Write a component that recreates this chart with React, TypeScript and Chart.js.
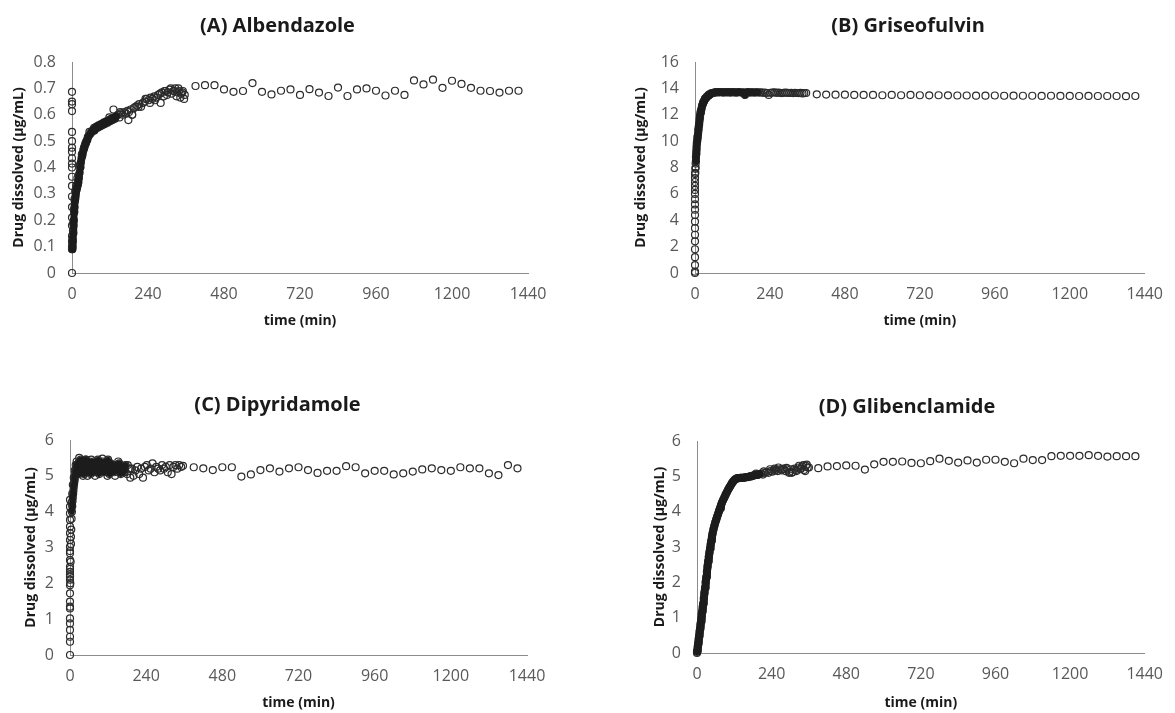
import React, { useEffect, useRef } from "react";
import { Chart, registerables } from "chart.js";

Chart.register(...registerables);

// ---------- DATA ----------
const X_TICK_STEP = 240;
const X_MAX = 1440;
const START_TIME = 0;

const TIME_DENSE = [
  1, 2, 3, 4, 5, 6, 7, 8, 9, 10, 11, 12, 13, 14, 15, 16, 17, 18, 19, 20,
  22, 24, 26, 28, 30, 32, 34, 36, 38, 40, 42, 44, 46, 48, 50,
  53, 56, 59, 62, 65, 68, 71, 74, 77, 80,
  84, 88, 92, 96, 100, 104, 108, 112, 116, 120, 124, 128, 132, 136, 140,
  145, 150, 155, 160, 165, 170, 175, 180, 185, 190, 195, 200,
  206, 212, 218, 224, 230, 236, 242, 248, 254, 260, 266, 272, 278, 284, 290, 296, 302, 308, 314, 320, 326, 332, 338, 344, 350, 356,
];

const TIME_LATE = [
  390, 420, 450, 480, 510, 540, 570, 600, 630, 660, 690, 720, 750, 780, 810, 840, 870, 900,
  930, 960, 990, 1020, 1050, 1080, 1110, 1140, 1170, 1200, 1230, 1260, 1290, 1320, 1350, 1380, 1410,
];

const TIME_LATE_D = [
  360, 390, 420, 450, 480, 510, 540, 570, 600, 630, 660, 690, 720, 750, 780, 810, 840, 870, 900,
  930, 960, 990, 1020, 1050, 1080, 1110, 1140, 1170, 1200, 1230, 1260, 1290, 1320, 1350, 1380, 1410,
];

// (A) Albendazole
const A_START = [0, 0.09, 0.1, 0.12, 0.14, 0.18, 0.21, 0.25, 0.29, 0.33, 0.365, 0.4, 0.415, 0.435, 0.46, 0.475, 0.5, 0.535, 0.614, 0.64, 0.65, 0.687];
const A_DENSE = [
  0.09, 0.1, 0.12, 0.15, 0.18, 0.2, 0.23, 0.25, 0.27, 0.28, 0.29, 0.3, 0.31, 0.315, 0.32, 0.325, 0.33, 0.335, 0.34, 0.345,
  0.36, 0.38, 0.4, 0.42, 0.435, 0.445, 0.455, 0.465, 0.475, 0.48, 0.49, 0.495, 0.5, 0.505, 0.515,
  0.52, 0.525, 0.53, 0.535, 0.54, 0.545, 0.54, 0.55, 0.555, 0.55,
  0.56, 0.555, 0.565, 0.56, 0.57, 0.565, 0.575, 0.57, 0.58, 0.575, 0.585, 0.58, 0.59, 0.585, 0.595,
  0.6, 0.59, 0.605, 0.6, 0.61, 0.605, 0.615, 0.61, 0.62, 0.6, 0.625, 0.63,
  0.635, 0.64, 0.63, 0.645, 0.65, 0.66, 0.655, 0.665, 0.66, 0.67, 0.665, 0.675, 0.68, 0.685, 0.67, 0.69, 0.685, 0.695, 0.68, 0.69, 0.7, 0.685, 0.69, 0.68, 0.69, 0.675,
];
const A_EXTRA_T = [1, 2, 3, 4, 6, 8, 10, 13, 17, 21, 25, 31, 37, 43, 55, 70, 86, 102, 118, 131, 152, 178, 190, 210, 232, 246, 262, 280, 292, 300, 312, 324, 330, 336, 342, 348, 354];
const A_EXTRA = [0.11, 0.13, 0.16, 0.19, 0.24, 0.28, 0.31, 0.33, 0.36, 0.37, 0.41, 0.45, 0.47, 0.49, 0.535, 0.55, 0.56, 0.57, 0.59, 0.62, 0.61, 0.58, 0.6, 0.63, 0.66, 0.645, 0.655, 0.645, 0.69, 0.675, 0.7, 0.69, 0.67, 0.7, 0.665, 0.685, 0.66];
const A_LATE = [
  0.709, 0.712, 0.712, 0.696, 0.687, 0.69, 0.72, 0.687, 0.677, 0.691,
  0.696, 0.675, 0.697, 0.684, 0.671, 0.703, 0.671, 0.696, 0.7, 0.691,
  0.673, 0.691, 0.675, 0.73, 0.715, 0.733, 0.702, 0.729, 0.717, 0.702,
  0.691, 0.69, 0.684, 0.691, 0.691,
];

// (B) Griseofulvin
const B_START = [0, 0.1, 0.6, 1.2, 1.8, 2.4, 2.9, 3.4, 3.9, 4.4, 4.8, 5.2, 5.6, 6.0, 6.3, 6.6, 6.9, 7.2, 7.5];
const B_DENSE = [
  7.6, 8.0, 8.5, 9.0, 9.4, 9.8, 10.0, 10.2, 10.4, 10.6, 10.85, 11.1, 11.3, 11.5, 11.7, 11.9, 12.05, 12.2, 12.3, 12.4,
  12.6, 12.75, 12.9, 13.0, 13.1, 13.2, 13.25, 13.3, 13.35, 13.4, 13.45, 13.5, 13.52, 13.55, 13.6,
  13.62, 13.65, 13.66, 13.68, 13.7, 13.7, 13.72, 13.7, 13.72, 13.7,
  13.72, 13.7, 13.68, 13.72, 13.7, 13.7, 13.72, 13.68, 13.7, 13.72, 13.7, 13.7, 13.68, 13.7, 13.72,
  13.7, 13.68, 13.7, 13.5, 13.7, 13.72, 13.68, 13.7, 13.7, 13.68, 13.7, 13.7,
  13.68, 13.7, 13.66, 13.68, 13.65, 13.5, 13.66, 13.68, 13.7, 13.66, 13.68, 13.66, 13.64, 13.66, 13.68, 13.66, 13.65, 13.66, 13.64, 13.66, 13.65, 13.64, 13.66, 13.62, 13.64, 13.65,
];
const B_EXTRA_T = [1, 2, 3, 4, 5, 6, 8, 11, 13, 16, 19, 23, 27, 33, 39, 45];
const B_EXTRA = [7.9, 8.3, 8.8, 9.2, 9.6, 9.9, 10.3, 10.9, 11.2, 11.8, 12.2, 12.7, 12.95, 13.25, 13.4, 13.5];
const B_LATE = [
  13.55, 13.53, 13.52, 13.52, 13.5, 13.5, 13.5, 13.48, 13.5, 13.48,
  13.5, 13.48, 13.47, 13.48, 13.47, 13.46, 13.46, 13.45, 13.45, 13.46,
  13.44, 13.45, 13.44, 13.44, 13.43, 13.44, 13.43, 13.43, 13.42, 13.43,
  13.42, 13.42, 13.42, 13.41, 13.42,
];

// (C) Dipyridamole
const C_START = [0, 0.37, 0.51, 0.7, 0.88, 1.02, 1.3, 1.35, 1.49, 1.72, 1.95, 2.1, 2.19, 2.25, 2.32, 2.4, 2.46, 2.65, 2.84, 2.9, 3.02, 3.21, 3.4, 3.58, 3.77, 3.95, 4.14, 4.33];
const C_DENSE = [
  2.0, 2.6, 3.1, 3.5, 3.8, 4.0, 4.15, 4.3, 4.4, 4.5, 4.6, 4.7, 4.78, 4.85, 4.92, 5.0, 5.05, 5.1, 5.15, 5.2,
  5.3, 5.1, 5.35, 5.05, 5.4, 5.15, 5.45, 5.1, 5.35, 5.2, 5.4, 5.05, 5.3, 5.15, 5.45,
  5.1, 5.35, 5.2, 5.4, 5.05, 5.3, 5.15, 5.4, 5.1, 5.3,
  5.2, 5.45, 5.05, 5.35, 5.15, 5.4, 5.1, 5.3, 5.2, 5.45, 5.05, 5.35, 5.15, 5.3, 5.1,
  5.3, 5.15, 5.35, 5.05, 5.25, 5.1, 5.3, 5.05, 5.2, 4.95, 5.2, 5.0,
  5.15, 5.25, 5.05, 5.2, 4.95, 5.25, 5.3, 5.15, 5.2, 5.35, 5.1, 5.25, 5.2, 5.15, 5.3, 5.2, 5.25, 5.1, 5.3, 5.05, 5.25, 5.3, 5.2, 5.3, 5.25, 5.28,
];
const C_EXTRA_T = [3, 5, 7, 9, 12, 15, 18, 21, 25, 29, 33, 37, 41, 45, 49, 55, 61, 67, 73, 79, 86, 94, 102, 110, 118, 126, 134, 142, 152, 162, 172, 182, 190];
const C_EXTRA = [3.3, 4.25, 4.5, 4.75, 4.95, 5.15, 5.3, 5.4, 5.2, 5.5, 5.25, 5.3, 5.0, 5.25, 5.45, 5.0, 5.25, 5.45, 5.2, 5.0, 5.3, 5.25, 5.48, 5.25, 5.0, 5.2, 5.25, 5.0, 5.4, 5.25, 5.1, 5.3, 5.2];
const C_LATE = [
  5.24, 5.21, 5.16, 5.24, 5.24, 4.98, 5.04, 5.16, 5.21, 5.12,
  5.21, 5.24, 5.16, 5.08, 5.14, 5.14, 5.27, 5.24, 5.07, 5.14,
  5.14, 5.04, 5.07, 5.12, 5.18, 5.21, 5.16, 5.14, 5.24, 5.21,
  5.21, 5.07, 5.02, 5.3, 5.21,
];

// (D) Glibenclamide
const D_START = [0, 0.03];
const D_DENSE = [
  0.06, 0.13, 0.2, 0.27, 0.34, 0.41, 0.48, 0.55, 0.62, 0.69, 0.76, 0.83, 0.9, 0.97, 1.04, 1.11, 1.18, 1.25, 1.32, 1.4,
  1.55, 1.7, 1.85, 2.0, 2.15, 2.3, 2.45, 2.6, 2.72, 2.84, 2.96, 3.07, 3.18, 3.28, 3.38,
  3.5, 3.6, 3.7, 3.78, 3.86, 3.94, 4.02, 4.1, 4.17, 4.25,
  4.33, 4.4, 4.48, 4.55, 4.62, 4.68, 4.74, 4.8, 4.85, 4.89, 4.92, 4.94, 4.95, 4.95, 4.96,
  4.96, 4.96, 4.97, 4.98, 4.98, 5.0, 5.0, 5.02, 5.03, 5.05, 5.04, 5.06,
  5.08, 5.05, 5.1, 5.12, 5.1, 5.15, 5.13, 5.16, 5.18, 5.15, 5.2, 5.17, 5.22, 5.15, 5.2, 5.1, 5.2, 5.12, 5.22, 5.15, 5.25, 5.2, 5.28, 5.18, 5.3, 5.25,
];
const D_EXTRA_T = [190, 215, 235, 250, 262, 275, 288, 298, 305, 318, 328, 335, 342, 348, 353];
const D_EXTRA = [5.08, 5.14, 5.2, 5.22, 5.25, 5.2, 5.24, 5.12, 5.1, 5.18, 5.3, 5.22, 5.32, 5.15, 5.33];
const D_LATE = [
  5.25, 5.23, 5.28, 5.29, 5.31, 5.3, 5.19, 5.34, 5.41, 5.41,
  5.42, 5.38, 5.37, 5.43, 5.5, 5.44, 5.39, 5.45, 5.39, 5.47,
  5.47, 5.41, 5.37, 5.5, 5.46, 5.46, 5.57, 5.58, 5.58, 5.58,
  5.6, 5.58, 5.56, 5.57, 5.57, 5.57,
];

// ---------- STYLE / LAYOUT ----------
const FONT = "'Open Sans', 'DejaVu Sans', sans-serif";
const TICK_COLOR = "#595959";
const AXIS_COLOR = "#8c8c8c";
const MARK_COLOR = "#2b2b2b";
const BAND_COLOR = "#1c1c1c";
const TEXT_COLOR = "#1a1a1a";

type Panel = {
  title: string;
  start: number[];
  dense: number[];
  extraT: number[];
  extra: number[];
  lateT: number[];
  late: number[];
  yMax: number;
  yStep: number;
  solidFrom: number;
  solidTo: number;
  bandWidth: number;
  box: { left: number; top: number; width: number; height: number };
  padTop: number;
  padRight: number;
  yWidth: number;
  xHeight: number;
  yTitlePad: number;
  xTitlePad: number;
  titleX: number;
  titleY: number;
};

const PANELS: Panel[] = [
  {
    title: "(A) Albendazole", start: A_START, dense: A_DENSE, extraT: A_EXTRA_T, extra: A_EXTRA,
    lateT: TIME_LATE, late: A_LATE, yMax: 0.8, yStep: 0.1, solidFrom: 1, solidTo: 140, bandWidth: 7,
    box: { left: 0, top: 0, width: 587, height: 340 },
    padTop: 62, padRight: 59, yWidth: 72, xHeight: 67, yTitlePad: 10.6, xTitlePad: 10.6,
    titleX: 277.5, titleY: 26,
  },
  {
    title: "(B) Griseofulvin", start: B_START, dense: B_DENSE, extraT: B_EXTRA_T, extra: B_EXTRA,
    lateT: TIME_LATE, late: B_LATE, yMax: 16, yStep: 2, solidFrom: 3, solidTo: 200, bandWidth: 7,
    box: { left: 623, top: 0, width: 552, height: 340 },
    padTop: 62, padRight: 23, yWidth: 72, xHeight: 67, yTitlePad: 10.1, xTitlePad: 10.6,
    titleX: 285, titleY: 26,
  },
  {
    title: "(C) Dipyridamole", start: C_START, dense: C_DENSE, extraT: C_EXTRA_T, extra: C_EXTRA,
    lateT: TIME_LATE, late: C_LATE, yMax: 6, yStep: 1, solidFrom: 6, solidTo: 175, bandWidth: 6,
    box: { left: 0, top: 380, width: 587, height: 333 },
    padTop: 60, padRight: 60, yWidth: 70, xHeight: 58, yTitlePad: 22.6, xTitlePad: 1.6,
    titleX: 277.5, titleY: 25,
  },
  {
    title: "(D) Glibenclamide", start: D_START, dense: D_DENSE, extraT: D_EXTRA_T, extra: D_EXTRA,
    lateT: TIME_LATE_D, late: D_LATE, yMax: 6, yStep: 1, solidFrom: 1, solidTo: 200, bandWidth: 8,
    box: { left: 623, top: 380, width: 552, height: 333 },
    padTop: 61, padRight: 23, yWidth: 74, xHeight: 60, yTitlePad: 28.6, xTitlePad: 1.6,
    titleX: 284, titleY: 27,
  },
];

const panelTitlePlugin = {
  id: "panelTitle",
  afterDraw(chart: any, _args: any, opts: any) {
    const ctx = chart.ctx;
    ctx.save();
    ctx.font = `bold 20px ${FONT}`;
    ctx.fillStyle = TEXT_COLOR;
    ctx.textAlign = "center";
    ctx.textBaseline = "middle";
    ctx.fillText(opts.text, opts.x, opts.y);
    ctx.restore();
  },
};

const plainNumber = (v: any) => `${Math.round(Number(v) * 1000) / 1000}`;

function PanelChart({ p }: { p: Panel }) {
  const ref = useRef<HTMLCanvasElement | null>(null);
  useEffect(() => {
    if (!ref.current) return;
    const pts: { x: number; y: number }[] = [];
    p.start.forEach((v) => pts.push({ x: START_TIME, y: v }));
    p.dense.forEach((v, i) => pts.push({ x: TIME_DENSE[i], y: v }));
    p.extra.forEach((v, i) => pts.push({ x: p.extraT[i], y: v }));
    p.late.forEach((v, i) => pts.push({ x: p.lateT[i], y: v }));

    const band: { x: number; y: number }[] = [];
    p.dense.forEach((v, i) => {
      const t = TIME_DENSE[i];
      if (t >= p.solidFrom && t <= p.solidTo) band.push({ x: t, y: v });
    });

    const chart = new Chart(ref.current, {
      type: "scatter",
      data: {
        datasets: [
          {
            data: band,
            showLine: true,
            borderColor: BAND_COLOR,
            borderWidth: p.bandWidth,
            borderJoinStyle: "round",
            borderCapStyle: "round",
            pointRadius: 0,
            clip: false as any,
          },
          {
            data: pts,
            pointStyle: "circle",
            pointRadius: 3.5,
            pointBorderWidth: 1.2,
            pointBorderColor: MARK_COLOR,
            pointBackgroundColor: "rgba(0,0,0,0)",
            showLine: false,
            clip: false as any,
          },
        ],
      },
      options: {
        responsive: false,
        animation: false,
        events: [],
        layout: { padding: { left: 0, top: p.padTop, right: p.padRight, bottom: 0 } },
        plugins: {
          legend: { display: false },
          tooltip: { enabled: false },
          title: { display: false },
          panelTitle: { text: p.title, x: p.titleX, y: p.titleY },
        } as any,
        scales: {
          x: {
            type: "linear",
            min: 0,
            max: X_MAX,
            grid: { display: false, drawTicks: false },
            border: { display: true, color: AXIS_COLOR, width: 1 },
            ticks: {
              stepSize: X_TICK_STEP,
              color: TICK_COLOR,
              font: { family: FONT, size: 16 },
              padding: 12,
              maxRotation: 0,
              callback: plainNumber,
            },
            title: {
              display: true,
              text: "time (min)",
              color: TEXT_COLOR,
              font: { family: FONT, size: 14, weight: "bold" },
              padding: { top: 0, bottom: p.xTitlePad },
            },
            afterFit: (s: any) => {
              s.height = p.xHeight;
            },
          },
          y: {
            type: "linear",
            min: 0,
            max: p.yMax,
            grid: { display: false, drawTicks: false },
            border: { display: true, color: AXIS_COLOR, width: 1 },
            ticks: {
              stepSize: p.yStep,
              color: TICK_COLOR,
              font: { family: FONT, size: 16 },
              padding: 16,
              callback: plainNumber,
            },
            title: {
              display: true,
              text: "Drug dissolved (µg/mL)",
              color: TEXT_COLOR,
              font: { family: FONT, size: 14, weight: "bold" },
              padding: { top: p.yTitlePad, bottom: 0 },
            },
            afterFit: (s: any) => {
              s.width = p.yWidth;
            },
          },
        },
      } as any,
      plugins: [panelTitlePlugin],
    });
    return () => chart.destroy();
  }, [p]);

  return (
    <canvas
      ref={ref}
      width={p.box.width}
      height={p.box.height}
      style={{
        position: "absolute",
        left: p.box.left,
        top: p.box.top,
        width: p.box.width,
        height: p.box.height,
      }}
    />
  );
}

export default function App() {
  return (
    <div
      style={{
        position: "absolute",
        left: 0,
        top: 0,
        width: 1175,
        height: 713,
        background: "#ffffff",
        overflow: "hidden",
      }}
    >
      {PANELS.map((p) => (
        <PanelChart key={p.title} p={p} />
      ))}
    </div>
  );
}
